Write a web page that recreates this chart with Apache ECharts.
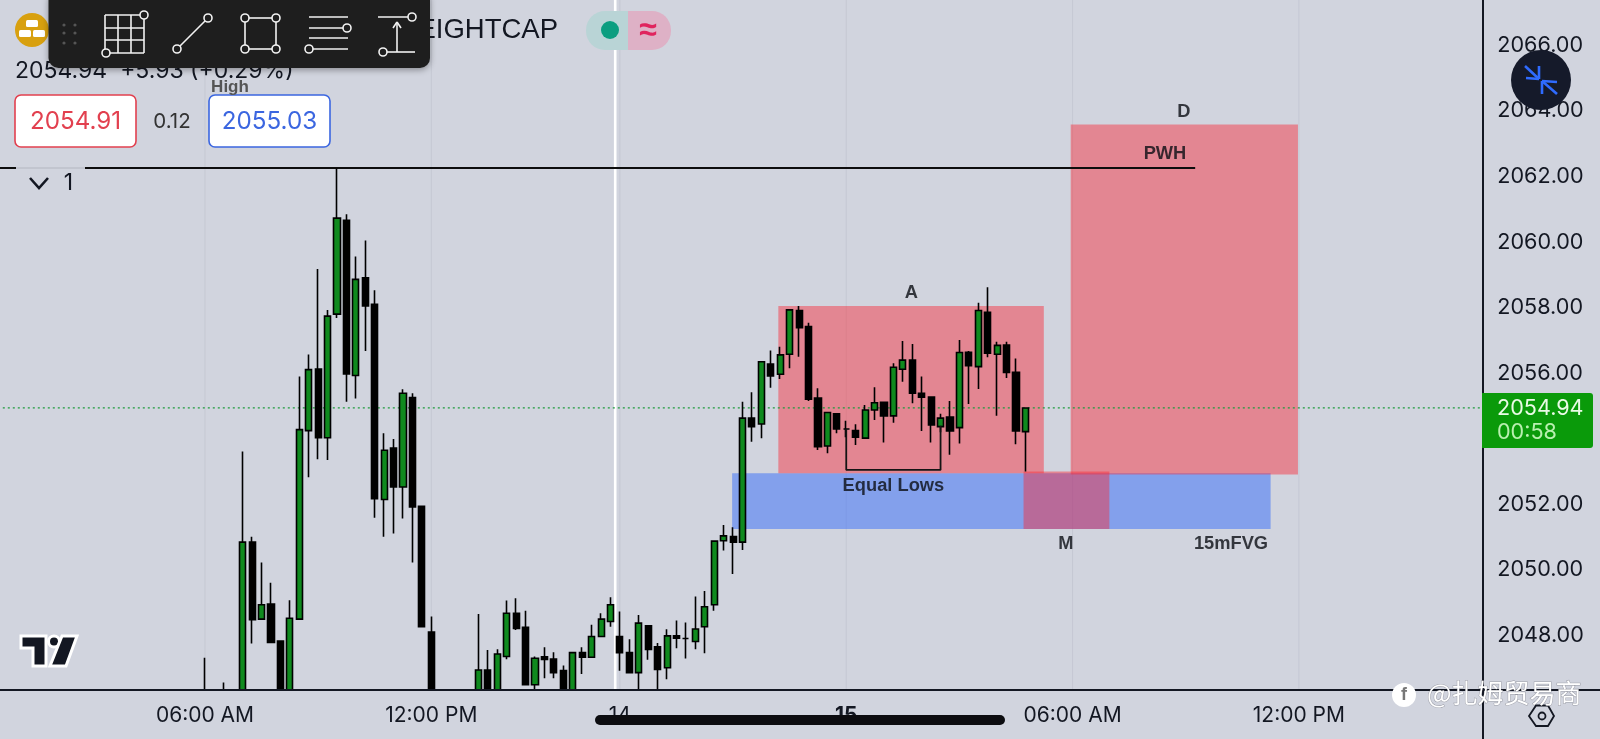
<!DOCTYPE html>
<html><head><meta charset="utf-8">
<style>html,body{margin:0;padding:0;background:#d1d4de;overflow:hidden}#c{width:1600px;height:739px}</style>
<script src="https://cdn.jsdelivr.net/npm/echarts@6/dist/echarts.min.js"></script>
</head><body><div id="c"></div>
<script>
// 15-minute candles, index 0 = 06:00 AM
const opens=[2046.1,2045.8,2045.5,2045.9,2045.7,2050.85,2048.50,2048.96,2047.83,2045.9,2048.50,2054.25,2056.13,2054.03,2057.80,2060.66,2055.93,2058.91,2058.10,2052.15,2053.72,2052.53,2055.26,2051.94,2048.11,2045.9,2045.4,2045.2,2045.4,2045.8,2046.95,2046.0,2047.36,2048.68,2048.25,2046.50,2047.35,2047.28,2046.93,2046.0,2047.48,2047.34,2047.97,2048.43,2047.97,2047.48,2046.87,2048.30,2047.66,2047.02,2047.99,2047.91,2047.82,2048.27,2048.94,2050.89,2051.02,2050.85,2054.63,2054.45,2056.28,2055.97,2056.58,2057.91,2057.42,2055.24,2053.78,2054.76,2054.30,2054.25,2054.02,2054.88,2055.11,2054.70,2056.12,2056.40,2055.39,2055.27,2054.37,2054.66,2054.34,2056.64,2056.20,2057.86,2056.58,2056.86,2056.03,2054.22];
const highs=[2047.32,2046.1,2046.57,2046.2,2053.61,2051.01,2050.23,2049.61,2047.83,2049.08,2055.90,2056.57,2059.18,2057.93,2062.24,2060.85,2059.56,2060.05,2058.53,2054.17,2053.99,2055.51,2055.39,2051.94,2048.58,2046.1,2045.7,2045.5,2045.9,2048.66,2047.56,2047.58,2049.07,2049.14,2048.76,2047.36,2047.64,2047.49,2047.09,2047.48,2047.64,2048.33,2048.68,2049.17,2048.73,2047.89,2048.63,2048.30,2047.77,2048.19,2048.46,2048.40,2049.19,2049.36,2050.88,2051.37,2051.30,2055.13,2055.42,2056.35,2056.69,2056.81,2057.93,2058.05,2057.54,2055.54,2054.80,2054.76,2054.55,2054.44,2055.03,2055.57,2055.11,2056.30,2056.98,2056.89,2055.90,2055.27,2054.76,2055.15,2057.01,2056.68,2058.15,2058.62,2056.96,2056.96,2056.45,2054.94];
const lows=[2045.4,2045.2,2045.1,2045.3,2045.5,2047.76,2048.50,2047.79,2045.4,2045.7,2048.50,2052.83,2053.38,2053.35,2057.68,2055.13,2055.23,2056.68,2051.59,2051.01,2051.11,2051.57,2050.23,2048.27,2045.7,2045.2,2045.0,2044.8,2045.1,2045.6,2045.7,2045.8,2047.28,2048.17,2046.50,2046.2,2046.70,2046.70,2045.8,2045.8,2046.83,2047.34,2047.97,2048.27,2046.93,2046.87,2046.2,2047.26,2046.2,2046.67,2047.61,2047.30,2047.58,2047.46,2048.76,2050.59,2049.88,2050.61,2053.91,2054.02,2055.56,2055.82,2056.15,2056.50,2055.15,2053.66,2053.56,2054.17,2054.05,2053.81,2054.02,2054.57,2053.89,2054.49,2055.74,2055.08,2054.24,2053.89,2054.2,2053.51,2053.86,2055.06,2055.52,2056.49,2054.70,2055.85,2053.83,2053.00];
const closes=[2045.8,2045.5,2045.9,2045.7,2050.85,2048.48,2048.94,2047.79,2045.9,2048.53,2054.28,2056.11,2054.03,2057.74,2060.73,2055.98,2058.86,2058.05,2052.17,2053.65,2052.53,2055.39,2051.92,2048.27,2045.9,2045.4,2045.2,2045.4,2045.8,2046.95,2046.0,2047.44,2048.68,2048.22,2046.50,2047.31,2047.27,2046.87,2046.0,2047.48,2047.34,2047.97,2048.50,2048.94,2047.48,2046.87,2048.38,2047.58,2046.97,2047.99,2047.92,2047.91,2048.20,2048.88,2050.88,2051.04,2050.85,2054.63,2054.37,2056.35,2055.92,2056.56,2057.93,2057.39,2055.21,2053.76,2054.80,2054.30,2054.30,2054.05,2054.88,2055.10,2054.70,2056.18,2056.40,2055.39,2055.27,2054.42,2054.63,2054.24,2056.63,2056.23,2057.91,2056.61,2056.85,2056.02,2054.24,2054.94];
const barsBefore=22, barsTotal=158;
const timeTicks={0:'06:00 AM',24:'12:00 PM',44:'14',68:'15',92:'06:00 AM',116:'12:00 PM'};
const priceTicks=[2048,2050,2052,2056,2058,2060,2062,2064,2066];
const priceMin=2046.34, priceMax=2067.38;
const lastPrice=2054.94, prevWeekHigh=2062.26;
// zones: [from bar, to bar, top price, bottom price]
const redZones=[[60.8,88.95,2058.05,2052.95],[91.8,115.9,2063.58,2052.91],[86.8,95.9,2053.0,2051.25]];
const blueZones=[[55.9,113,2052.95,2051.25]];
const equalLows=[[68,2054.3],[68,2053.05],[78,2053.05],[78,2054.4]];
const notes=[['A',74.9,2058.45],['D',103.8,2063.98],['PWH',101.8,2062.68],['Equal Lows',73,2052.56],['M',91.3,2050.79],['15mFVG',108.8,2050.79]];

const FONT='Inter,"Liberation Sans",Arial,sans-serif', BOLD='"Liberation Sans",Arial,sans-serif', INK='#131722';
const cats=[];for(let i=0;i<barsTotal;i++){cats.push(timeTicks[i-barsBefore]||'');}
const candles=[];for(let i=0;i<barsBefore;i++)candles.push('-');
opens.forEach((o,i)=>candles.push([o,closes[i],lows[i],highs[i]]));
const xMin=-barsBefore-0.5,xMax=barsTotal-barsBefore-0.5;

function zoneSeries(list,fill,z){return {type:'custom',xAxisIndex:1,yAxisIndex:0,z,silent:true,animation:false,clip:true,
  data:list,encode:{x:[0,1],y:[2,3]},
  renderItem(p,api){const a=api.coord([api.value(0),api.value(2)]),b=api.coord([api.value(1),api.value(3)]);
    return {type:'rect',shape:{x:a[0],y:a[1],width:b[0]-a[0],height:b[1]-a[1]},style:{fill}};}};}
function lineSeries(data,color,width,type,z){return {type:'line',xAxisIndex:1,yAxisIndex:0,data,z,silent:true,animation:false,showSymbol:false,symbol:'none',lineStyle:{color,width,type}};}

// interface chrome
const g=[];const Z=50;
const S=(x1,y1,x2,y2,stroke,w,z)=>g.push({type:'line',z:z||Z,silent:true,shape:{x1,y1,x2,y2},style:{stroke,lineWidth:w}});
const T=(x,y,text,fs,fill,o)=>g.push({type:'text',z:(o&&o.z)||Z,silent:true,x,y,style:Object.assign({text,fill,font:(o&&o.w||'normal')+' '+fs+'px '+((o&&o.f)||FONT),textAlign:(o&&o.a)||'left',textVerticalAlign:'middle'},o&&o.s)});
const W='#f2f2f2';
const Ci=(cx,cy,r,z)=>g.push({type:'circle',z:z||62,silent:true,shape:{cx,cy,r},style:{fill:'#1e1e1e',stroke:W,lineWidth:1.6}});
// cover strip so bodies stop at the time scale
g.push({type:'rect',z:8.5,silent:true,shape:{x:0,y:691,width:1482,height:48},style:{fill:'#d1d4de'}});
// frame lines
S(1483,690,1483,739,'#131722',2);S(1483,690,1600,690,'#131722',2);
// header under the toolbar
T(558,30,'EIGHTCAP',27.5,INK,{a:'right',f:BOLD});
g.push({type:'circle',z:Z,silent:true,shape:{cx:32,cy:30,r:17},style:{fill:'#d8a00f'}});
[[26,20,12,7],[19,30,12,7],[33,30,12,7]].forEach(r=>g.push({type:'rect',z:Z+1,silent:true,shape:{x:r[0],y:r[1],width:r[2],height:r[3],r:1.5},style:{fill:'#fff'}}));
g.push({type:'rect',z:Z,silent:true,shape:{x:586,y:11,width:43,height:39,r:[19,0,0,19]},style:{fill:'#b9d4d6'}});
g.push({type:'rect',z:Z,silent:true,shape:{x:628,y:11,width:43,height:39,r:[0,19,19,0]},style:{fill:'#deb1c6'}});
g.push({type:'circle',z:Z+1,silent:true,shape:{cx:610,cy:30,r:9},style:{fill:'#0b9e80'}});
T(648,31,'≈',32,'#e0245e',{a:'center',w:'bold',z:Z+1,f:BOLD});
T(15,71,'2054.94  +5.93 (+0.29%)',23,INK);
T(230,87,'High',17,'#555',{a:'center',w:'bold',z:Z+2,f:BOLD});
g.push({type:'rect',z:Z,silent:true,shape:{x:15,y:95,width:121,height:52,r:6},style:{fill:'#fff',stroke:'#e2404f',lineWidth:1.6}});
T(75.5,122,'2054.91',24.2,'#e2404f',{a:'center',z:Z+1});
T(172,122,'0.12',20.5,'#333',{a:'center'});
g.push({type:'rect',z:Z,silent:true,shape:{x:209,y:95,width:121,height:52,r:6},style:{fill:'#fff',stroke:'#3b66e0',lineWidth:1.6}});
T(269.5,122,'2055.03',24.2,'#3b66e0',{a:'center',z:Z+1});
// fold control
S(16,168,85,168,'#c2c5cf',2,Z);
g.push({type:'polyline',z:Z,silent:true,shape:{points:[[30,178],[39,188],[48,178]]},style:{stroke:INK,lineWidth:2.6,fill:null}});
T(68.5,183,'1',23,INK,{a:'center'});
// drawing toolbar
g.push({type:'rect',z:60,silent:true,shape:{x:48.5,y:-10,width:381.5,height:78,r:10},style:{fill:'#1e1e1e',shadowBlur:6,shadowColor:'rgba(0,0,0,.35)',shadowOffsetY:2}});
[[64,25],[75,25],[64,33],[75,33],[64,43],[75,43]].forEach(p=>g.push({type:'circle',z:61,silent:true,shape:{cx:p[0],cy:p[1],r:1.6},style:{fill:'#555'}}));
const TL=(a,b,c,d)=>S(a,b,c,d,W,1.6,61);
[105,118,131,144].forEach(x=>TL(x,15,x,53));[15,28,40,53].forEach(y=>TL(105,y,144,y));Ci(144,15,4);Ci(106,53,4);
TL(208,18,177,49);Ci(208,18,4);Ci(177,49,4);
TL(245,18,276,18);TL(245,49,276,49);TL(245,18,245,49);TL(276,18,276,49);[[245,18],[276,18],[245,49],[276,49]].forEach(p=>Ci(p[0],p[1],4));
TL(309,17,348,17);TL(309,28,347,28);Ci(347,28,4);TL(309,38,348,38);TL(309,49,348,49);Ci(309,49,4);
TL(378,17,412,17);Ci(412,17,4);TL(383,52,415,52);Ci(383,52,4);TL(397,22,397,52);TL(397,22,393,28);TL(397,22,401,28);
// compress button
g.push({type:'circle',z:60,silent:true,shape:{cx:1541,cy:80,r:30},style:{fill:'#151a2a'}});
[[[1525,66],[1539,79]],[[1539,66],[1539,79]],[[1526,78],[1539,79]],[[1557,94],[1542,81]],[[1542,94],[1542,81]],[[1557,82],[1542,81]]].forEach(a=>S(a[0][0],a[0][1],a[1][0],a[1][1],'#2f6bff',2.6,61));
// price tag
g.push({type:'rect',z:Z,silent:true,shape:{x:1482,y:393,width:111,height:55,r:[0,3,3,0]},style:{fill:'#0a9a0a'}});
T(1497,408,'2054.94',21.6,'#eafbe6',{z:Z+1});
T(1497,432,'00:58',21.6,'#b9f0b0',{z:Z+1});
// tradingview mark
g.push({type:'polygon',z:Z,silent:true,shape:{points:[[21,636],[46,636],[46,666],[33,666],[33,648],[21,648]]},style:{fill:'#131722',stroke:'#fff',lineWidth:3}});
g.push({type:'circle',z:Z,silent:true,shape:{cx:54,cy:641.5,r:5.5},style:{fill:'#131722',stroke:'#fff',lineWidth:3}});
g.push({type:'polygon',z:Z,silent:true,shape:{points:[[62,636],[77,636],[66,666],[50,666]]},style:{fill:'#131722',stroke:'#fff',lineWidth:3}});
// time scrollbar
g.push({type:'rect',z:Z,silent:true,shape:{x:595,y:715,width:410,height:10,r:5},style:{fill:'#0c0c10'}});
// settings hexagon
g.push({type:'polygon',z:Z,silent:true,shape:{points:[[1529,716],[1536,705.5],[1548,705.5],[1554,716],[1548,726],[1536,726]]},style:{fill:null,stroke:INK,lineWidth:1.8}});
g.push({type:'circle',z:Z,silent:true,shape:{cx:1542,cy:716,r:3.5},style:{fill:null,stroke:INK,lineWidth:1.8}});
// watermark
g.push({type:'circle',z:70,silent:true,shape:{cx:1404,cy:695,r:12},style:{fill:'#fff'}});
T(1404,695,'f',18,'#777',{a:'center',w:'bold',z:71,f:BOLD});
g.push({type:'text',z:70,silent:true,x:1427,y:693,style:{text:'@扎姆贸易商',fill:'#ffffff',font:'26px "Noto Sans CJK SC"',textVerticalAlign:'middle',stroke:'rgba(90,90,100,.45)',lineWidth:1}});

const chart=echarts.init(document.getElementById('c'),null,{renderer:'canvas'});
chart.setOption({
  animation:false,backgroundColor:'#d1d4de',
  grid:{left:-7.2,top:0,width:1490,height:690,containLabel:false,outerBoundsMode:'none'},
  xAxis:[{type:'category',data:cats,position:'bottom',boundaryGap:true,z:9,
      axisLine:{show:true,onZero:false,lineStyle:{color:'#131722',width:2}},axisTick:{show:false},splitLine:{show:false},
      axisLabel:{show:true,interval:(i,v)=>v!=='',margin:15,fontFamily:FONT,fontSize:21,color:INK,hideOverlap:false,
        formatter:v=>v==='15'?'{b|15}':v,rich:{b:{fontFamily:FONT,fontSize:21,fontWeight:'bold',color:INK}}}},
    {type:'value',min:xMin,max:xMax,show:false,position:'top',splitLine:{show:false},axisLine:{show:false},axisTick:{show:false},axisLabel:{show:false}}],
  yAxis:{type:'value',position:'right',min:priceMin,max:priceMax,scale:true,z:9,
    axisLine:{show:true,onZero:false,lineStyle:{color:'#131722',width:2}},axisTick:{show:false},splitLine:{show:false},
    axisLabel:{customValues:priceTicks,margin:14.5,padding:[2,0,0,0],fontFamily:FONT,fontSize:21.6,color:INK,formatter:v=>v.toFixed(2),showMinLabel:true,showMaxLabel:true}},
  graphic:{elements:g},
  series:[
    {type:'custom',xAxisIndex:1,yAxisIndex:0,z:1,silent:true,animation:false,data:Object.keys(timeTicks).map(Number),encode:{x:0},
      renderItem(p,api){const a=api.coord([api.value(0),priceMax]),b=api.coord([api.value(0),priceMin]);
        return {type:'line',shape:{x1:a[0],y1:a[1],x2:b[0],y2:b[1]},style:{stroke:'#c5c8d3',lineWidth:1}};}},
    lineSeries([[43.5,priceMin],[43.5,priceMax]],'#ffffff',2.6,'solid',2),
    zoneSeries(blueZones,'rgba(53,108,250,0.5)',3),
    zoneSeries(redZones,'rgba(249,41,53,0.45)',4),
    lineSeries([[xMin,lastPrice],[xMax,lastPrice]],'#1f9a3c',1.2,[2,3],5),
    lineSeries([[xMin,prevWeekHigh],[105,prevWeekHigh]],'#0d0d0d',2,'solid',6),
    {type:'candlestick',xAxisIndex:0,yAxisIndex:0,data:candles,z:7,barWidth:6.6,clip:true,silent:true,animation:false,
      itemStyle:{color:'#0f8a1e',color0:'#000',borderColor:'#000',borderColor0:'#000',borderColorDoji:'#000',borderWidth:1.6}},
    lineSeries(equalLows,'#141414',1.8,'solid',8),
    {type:'scatter',xAxisIndex:1,yAxisIndex:0,z:9,symbolSize:0,silent:true,animation:false,
      data:notes.map(n=>({name:n[0],value:[n[1],n[2]]})),
      label:{show:true,position:'inside',formatter:p=>p.name,fontFamily:BOLD,fontWeight:'bold',fontSize:18.3,color:'#0b0e14'}}
  ]
});
</script></body></html>
